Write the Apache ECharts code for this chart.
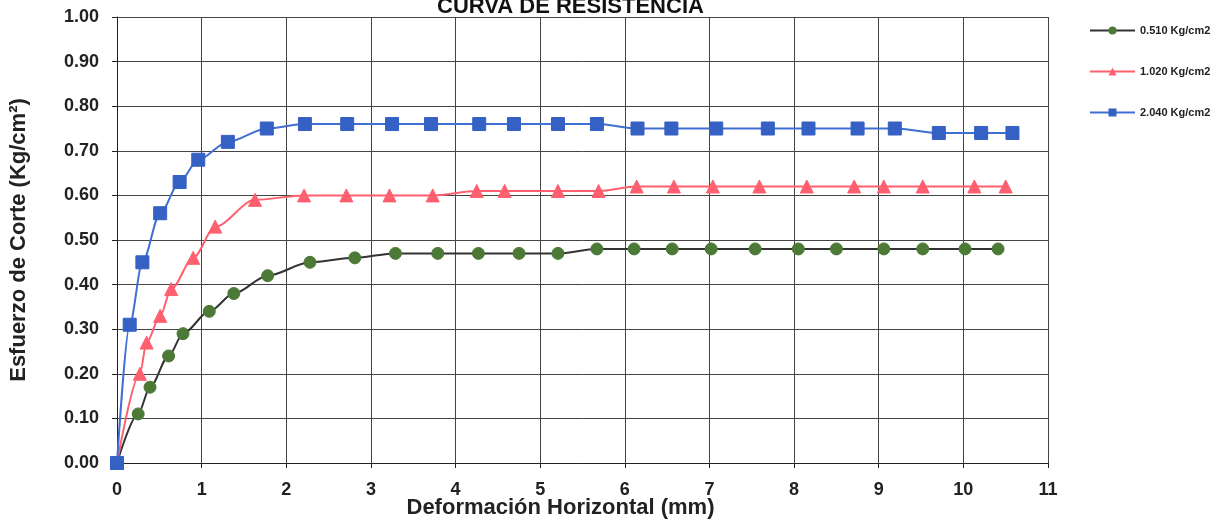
<!DOCTYPE html>
<html>
<head>
<meta charset="utf-8">
<script src="https://cdn.jsdelivr.net/npm/echarts@6/dist/echarts.min.js"></script>
<style>html,body{margin:0;padding:0;background:#fff}#c{width:1219px;height:522px}</style>
</head>
<body>
<div id="c"></div>
<script>
const seriesNames = ['0.510 Kg/cm2', '1.020 Kg/cm2', '2.040 Kg/cm2'];

const x1 = [0, 0.25, 0.39, 0.61, 0.78, 1.09, 1.38, 1.78, 2.28, 2.81, 3.29, 3.79, 4.27, 4.75, 5.21, 5.67, 6.11, 6.56, 7.02, 7.54, 8.05, 8.50, 9.06, 9.52, 10.02, 10.41];
const y1 = [0, 0.11, 0.17, 0.24, 0.29, 0.34, 0.38, 0.42, 0.45, 0.46, 0.47, 0.47, 0.47, 0.47, 0.47, 0.48, 0.48, 0.48, 0.48, 0.48, 0.48, 0.48, 0.48, 0.48, 0.48, 0.48];

const x2 = [0, 0.27, 0.35, 0.51, 0.64, 0.90, 1.16, 1.63, 2.21, 2.71, 3.22, 3.73, 4.25, 4.58, 5.21, 5.69, 6.14, 6.58, 7.04, 7.59, 8.15, 8.71, 9.06, 9.52, 10.13, 10.50];
const y2 = [0, 0.20, 0.27, 0.33, 0.39, 0.46, 0.53, 0.59, 0.60, 0.60, 0.60, 0.60, 0.61, 0.61, 0.61, 0.61, 0.62, 0.62, 0.62, 0.62, 0.62, 0.62, 0.62, 0.62, 0.62, 0.62];

const x3 = [0, 0.15, 0.30, 0.51, 0.74, 0.96, 1.31, 1.77, 2.22, 2.72, 3.25, 3.71, 4.28, 4.69, 5.21, 5.67, 6.15, 6.55, 7.08, 7.69, 8.17, 8.75, 9.19, 9.71, 10.21, 10.58];
const y3 = [0, 0.31, 0.45, 0.56, 0.63, 0.68, 0.72, 0.75, 0.76, 0.76, 0.76, 0.76, 0.76, 0.76, 0.76, 0.76, 0.75, 0.75, 0.75, 0.75, 0.75, 0.75, 0.75, 0.74, 0.74, 0.74];

const xTicks = [0, 1, 2, 3, 4, 5, 6, 7, 8, 9, 10, 11];
const yTicks = [0, 0.1, 0.2, 0.3, 0.4, 0.5, 0.6, 0.7, 0.8, 0.9, 1.0];

function pairs(xs, ys) { return xs.map((v, i) => [v, ys[i]]); }

const font = 'Liberation Sans, Arial, sans-serif';
const chart = echarts.init(document.getElementById('c'), null, {renderer: 'canvas'});
chart.setOption({
  animation: false,
  backgroundColor: '#ffffff',
  title: {
    text: 'CURVA DE RESISTENCIA',
    left: 432, top: -9,
    textStyle: {fontFamily: font, fontWeight: 'bold', fontSize: 22, color: '#111'}
  },
  legend: {
    orient: 'vertical',
    left: 1084, top: 20,
    itemGap: 30,
    itemWidth: 45, itemHeight: 10,
    textStyle: {fontFamily: font, fontWeight: 'bold', fontSize: 11, color: '#222'},
    data: seriesNames
  },
  grid: {left: 117, right: 171, top: 17, bottom: 59, containLabel: false, outerBoundsMode: 'none'},
  xAxis: {
    type: 'value', min: 0, max: 11, interval: 1,
    name: 'Deformación Horizontal (mm)', nameLocation: 'middle', nameGap: 34, nameMoveOverlap: false,
    nameTextStyle: {fontFamily: font, fontWeight: 'bold', fontSize: 22, color: '#222', padding: [0, 44, 0, 0]},
    axisLine: {show: true, lineStyle: {color: '#222', width: 1}},
    axisTick: {show: true, length: 5, lineStyle: {color: '#222'}},
    axisLabel: {fontFamily: font, fontWeight: 'bold', fontSize: 18, color: '#222', margin: 18,
      formatter: v => xTicks.includes(v) ? String(v) : ''},
    splitLine: {show: true, lineStyle: {color: '#444', width: 1}}
  },
  yAxis: {
    type: 'value', min: 0, max: 1, interval: 0.1,
    name: 'Esfuerzo de Corte (Kg/cm²)', nameLocation: 'middle', nameGap: 87, nameRotate: 90, nameMoveOverlap: false,
    nameTextStyle: {fontFamily: font, fontWeight: 'bold', fontSize: 22, color: '#222'},
    axisLine: {show: true, lineStyle: {color: '#222', width: 1}},
    axisTick: {show: true, length: 5, lineStyle: {color: '#222'}},
    axisLabel: {fontFamily: font, fontWeight: 'bold', fontSize: 18, color: '#222', margin: 18,
      formatter: v => v.toFixed(2)},
    splitLine: {show: true, lineStyle: {color: '#444', width: 1}}
  },
  series: [
    {
      name: seriesNames[0], type: 'line', data: pairs(x1, y1),
      smooth: 0.3, smoothMonotone: 'x',
      symbol: 'circle', symbolSize: 12,
      lineStyle: {color: '#333', width: 2},
      itemStyle: {color: '#4c7a36', borderColor: '#4c7a36'},
      z: 3
    },
    {
      name: seriesNames[1], type: 'line', data: pairs(x2, y2),
      smooth: 0.3, smoothMonotone: 'x',
      symbol: 'triangle', symbolSize: 13,
      lineStyle: {color: '#ff5f6f', width: 2},
      itemStyle: {color: '#ff5f6f', borderColor: '#ff5f6f'},
      z: 4
    },
    {
      name: seriesNames[2], type: 'line', data: pairs(x3, y3),
      smooth: 0.3, smoothMonotone: 'x',
      symbol: 'rect', symbolSize: 13,
      lineStyle: {color: '#3f6fd2', width: 2},
      itemStyle: {color: '#3560c4', borderColor: '#3560c4'},
      z: 5
    }
  ]
});
</script>
</body>
</html>
